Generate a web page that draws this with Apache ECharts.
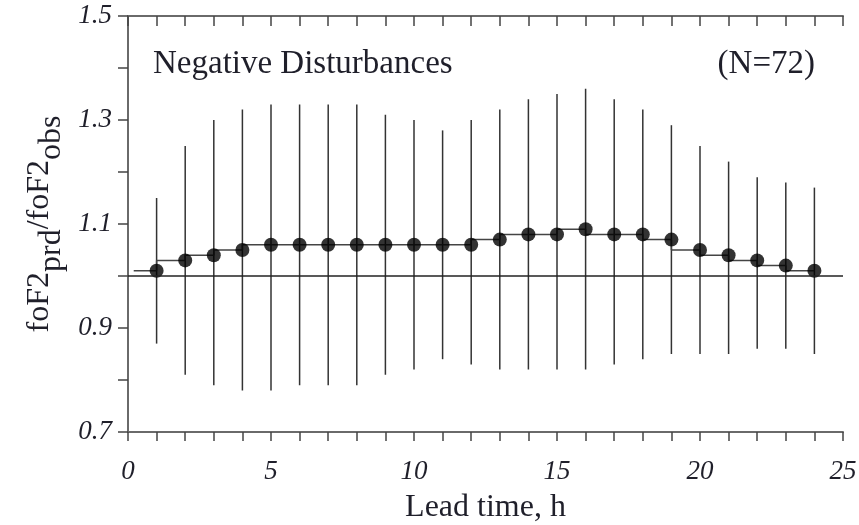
<!DOCTYPE html>
<html>
<head>
<meta charset="utf-8">
<script src="https://cdn.jsdelivr.net/npm/echarts@6/dist/echarts.min.js"></script>
<style>
    html, body { margin: 0; padding: 0; background: #fff; }
    #chart { width: 859px; height: 525px; }
</style>
</head>
<body>
<div id="chart"></div>
<script>
    // lead time in hours
    var leadTime = [1, 2, 3, 4, 5, 6, 7, 8, 9, 10, 11, 12, 13, 14, 15, 16, 17, 18, 19, 20, 21, 22, 23, 24];
    // mean foF2prd/foF2obs
    var meanRatio = [1.01, 1.03, 1.04, 1.05, 1.06, 1.06, 1.06, 1.06, 1.06, 1.06, 1.06, 1.06,
                     1.07, 1.08, 1.08, 1.09, 1.08, 1.08, 1.07, 1.05, 1.04, 1.03, 1.02, 1.01];
    // spread of the ratio (top and bottom of each bar)
    var upperRatio = [1.15, 1.25, 1.30, 1.32, 1.33, 1.33, 1.33, 1.33, 1.31, 1.30, 1.28, 1.30,
                      1.32, 1.34, 1.35, 1.36, 1.34, 1.32, 1.29, 1.25, 1.22, 1.19, 1.18, 1.17];
    var lowerRatio = [0.87, 0.81, 0.79, 0.78, 0.78, 0.79, 0.79, 0.79, 0.81, 0.82, 0.84, 0.83,
                      0.82, 0.82, 0.82, 0.82, 0.83, 0.84, 0.85, 0.85, 0.85, 0.86, 0.86, 0.85];
    // the step line starts a little right of zero
    var stepStart = 0.2;
    var refLevel = 1.0;

    var font = '"Liberation Serif", "Times New Roman", serif';
    var axisGray = '#6a6a6a';
    var textColor = '#1f1f2a';

    var points = leadTime.map(function (t, i) { return [t, meanRatio[i]]; });
    var bars = leadTime.map(function (t, i) { return [t, upperRatio[i], lowerRatio[i]]; });
    var stepLine = [[stepStart, meanRatio[0]]].concat(points);

    var myChart = echarts.init(document.getElementById('chart'));
    myChart.setOption({
        animation: false,
        grid: { left: 128, right: 16, top: 16, bottom: 93, containLabel: false, outerBoundsMode: 'none' },
        xAxis: [
            {
                type: 'value', min: 0, max: 25, interval: 1, position: 'bottom',
                name: 'Lead time, h', nameLocation: 'middle', nameGap: 60,
                nameTextStyle: { fontFamily: font, fontSize: 32, color: textColor },
                axisLine: { show: true, lineStyle: { color: axisGray, width: 2 } },
                axisTick: { show: true, inside: false, length: 9, lineStyle: { color: '#444', width: 1.5 } },
                axisLabel: {
                    margin: 26, fontFamily: font, fontStyle: 'italic', fontSize: 27, color: textColor,
                    formatter: function (v) { return v % 5 === 0 ? String(v) : ''; }
                },
                splitLine: { show: false }
            },
            {
                type: 'value', min: 0, max: 25, interval: 1, position: 'top',
                axisLine: { show: true, lineStyle: { color: axisGray, width: 2 } },
                axisTick: { show: true, inside: true, length: 10, lineStyle: { color: '#444', width: 1.5 } },
                axisLabel: { show: false },
                splitLine: { show: false }
            }
        ],
        yAxis: [
            {
                type: 'value', min: 0.7, max: 1.5, interval: 0.1, position: 'left',
                name: '{n|foF2}{s|prd}{n|/foF2}{s|obs}', nameLocation: 'middle', nameGap: 70,
                nameTextStyle: {
                    color: textColor,
                    rich: {
                        n: { fontFamily: font, fontSize: 32, color: textColor, lineHeight: 32, verticalAlign: 'top' },
                        s: { fontFamily: font, fontSize: 32, color: textColor, lineHeight: 32, verticalAlign: 'top', padding: [12, 0, 0, 0] }
                    }
                },
                axisLine: { show: true, lineStyle: { color: axisGray, width: 2 } },
                axisTick: { show: true, inside: false, length: 8, lineStyle: { color: '#444', width: 1.5 } },
                axisLabel: {
                    margin: 16, fontFamily: font, fontStyle: 'italic', fontSize: 27, color: textColor,
                    formatter: function (v) {
                        var k = Math.round(v * 10);
                        return k % 2 === 1 ? (k / 10).toFixed(1) : '';
                    }
                },
                splitLine: { show: false }
            },
            {
                type: 'value', min: 0.7, max: 1.5, interval: 0.1, position: 'right',
                axisLine: { show: true, lineStyle: { color: axisGray, width: 2 } },
                axisTick: { show: true, inside: true, length: 10, lineStyle: { color: '#444', width: 1.5 } },
                axisLabel: { show: false },
                splitLine: { show: false }
            }
        ],
        graphic: [
            {
                type: 'text', left: 153, top: 48,
                style: { text: 'Negative Disturbances', font: '33px ' + font, fill: textColor }
            },
            {
                type: 'text', right: 44, top: 48,
                style: { text: '(N=72)', font: '33px ' + font, fill: textColor }
            }
        ],
        series: [
            {
                type: 'custom',
                name: 'spread',
                data: bars,
                encode: { x: 0, y: [1, 2] },
                renderItem: function (params, api) {
                    var top = api.coord([api.value(0), api.value(1)]);
                    var bot = api.coord([api.value(0), api.value(2)]);
                    return {
                        type: 'line',
                        shape: { x1: top[0], y1: top[1], x2: bot[0], y2: bot[1] },
                        style: { stroke: '#333', lineWidth: 1.5 }
                    };
                },
                z: 2
            },
            {
                type: 'line',
                name: 'step',
                data: stepLine,
                step: 'start',
                symbol: 'none',
                lineStyle: { color: '#444', width: 1.5 },
                markLine: {
                    silent: true,
                    symbol: 'none',
                    label: { show: false },
                    lineStyle: { color: '#222', width: 1.5, type: 'solid' },
                    data: [{ yAxis: refLevel }]
                },
                z: 3
            },
            {
                type: 'scatter',
                name: 'mean',
                data: points,
                symbol: 'circle',
                symbolSize: 14,
                itemStyle: { color: '#000' },
                z: 4
            }
        ]
    });
</script>
</body>
</html>
